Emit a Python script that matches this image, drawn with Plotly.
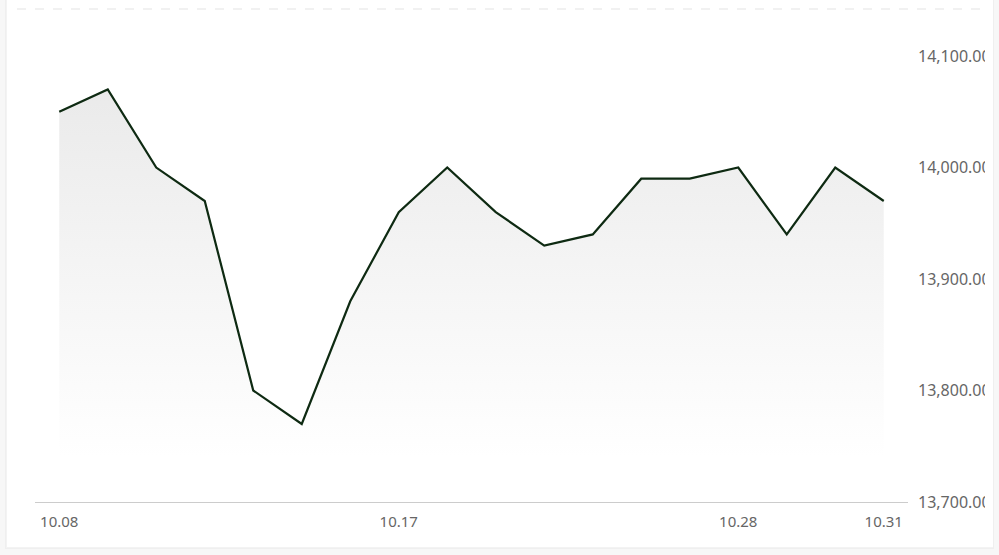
import plotly.graph_objects as go

dates = ["10.08", "10.09", "10.10", "10.11", "10.14", "10.15", "10.16", "10.17", "10.18",
         "10.21", "10.22", "10.23", "10.24", "10.25", "10.28", "10.29", "10.30", "10.31"]
values = [14050, 14070, 14000, 13970, 13800, 13770, 13880, 13960, 14000,
          13960, 13930, 13940, 13990, 13990, 14000, 13940, 14000, 13970]
x_tick_labels = ["10.08", "10.17", "10.28", "10.31"]
y_tick_values = [13700, 13800, 13900, 14000, 14100]
y_tick_labels = ["13,700.00", "13,800.00", "13,900.00", "14,000.00", "14,100.00"]

W, H = 999, 555
L, R, T, B = 35, 908, 9, 502


def px(x):
    return (x - L) / (R - L)


def py(y):
    return (B - y) / (B - T)


fig = go.Figure()
fig.add_trace(go.Scatter(
    x=dates, y=values, mode="lines",
    line=dict(color="#0e2a12", width=2.2),
    fill="tozeroy",
    fillgradient=dict(type="vertical",
                      colorscale=[[0, "rgba(255,255,255,1)"], [1, "rgba(234,234,234,1)"]],
                      start=13740, stop=14075),
    hoverinfo="skip", showlegend=False,
))

shapes = [
    # card
    dict(type="rect", xref="paper", yref="paper", x0=px(5), x1=px(995), y0=py(549), y1=py(-5),
         fillcolor="#efefef", line_width=0, layer="below"),
    dict(type="rect", xref="paper", yref="paper", x0=px(6), x1=px(994), y0=py(548), y1=py(-5),
         fillcolor="#f3f3f3", line_width=0, layer="below"),
    dict(type="rect", xref="paper", yref="paper", x0=px(7), x1=px(993), y0=py(547), y1=py(-5),
         fillcolor="#ffffff", line_width=0, layer="below"),
    # top dashed line
    dict(type="line", xref="paper", yref="paper", x0=px(17), x1=px(985), y0=py(9), y1=py(9),
         line=dict(color="#e3e3e3", width=1, dash="dash"), layer="below"),
    # clip strip of labels
    dict(type="rect", xref="paper", yref="paper", x0=px(985), x1=px(993), y0=py(547), y1=py(-5),
         fillcolor="#ffffff", line_width=0, layer="above"),
    dict(type="rect", xref="paper", yref="paper", x0=px(993), x1=px(994), y0=py(548), y1=py(-5),
         fillcolor="#efefef", line_width=0, layer="above"),
    dict(type="rect", xref="paper", yref="paper", x0=px(994), x1=px(1000), y0=py(556), y1=py(-5),
         fillcolor="#f7f7f7", line_width=0, layer="above"),
]

fig.update_layout(
    width=W, height=H,
    margin=dict(l=L, r=W - R, t=T, b=H - B, pad=0),
    paper_bgcolor="#f7f7f7",
    plot_bgcolor="rgba(0,0,0,0)",
    font=dict(family="Noto Sans, Open Sans, sans-serif", size=15, color="#666666"),
    shapes=shapes,
    xaxis=dict(
        type="category", range=[-0.5, 17.5],
        tickmode="array", tickvals=x_tick_labels, ticktext=x_tick_labels,
        showgrid=False, zeroline=False,
        showline=True, linecolor="#cccccc", linewidth=1,
        ticks="", ticklabelstandoff=6,
        tickfont=dict(size=15, color="#666666"),
        fixedrange=True,
    ),
    yaxis=dict(
        range=[13700, 14142.2], side="right",
        tickmode="array", tickvals=y_tick_values, ticktext=y_tick_labels,
        showgrid=False, zeroline=False, showline=False,
        ticks="", ticklabelstandoff=9,
        tickfont=dict(size=16, color="#666666"),
        fixedrange=True,
    ),
)

fig.write_html("out.html", config={"displayModeBar": False},
               post_script="document.body.style.margin='0';document.body.style.overflow='hidden';")
